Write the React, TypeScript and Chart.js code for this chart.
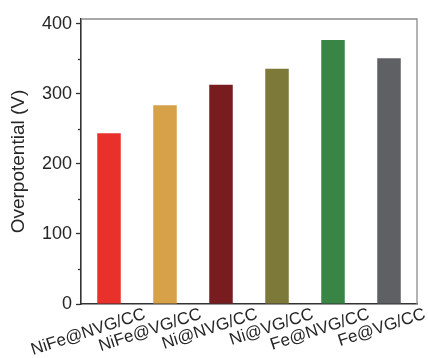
import React, { useEffect, useRef } from 'react';
import { Chart, registerables } from 'chart.js';

Chart.register(...registerables);

const categories = ['NiFe@NVG/CC', 'NiFe@VG/CC', 'Ni@NVG/CC', 'Ni@VG/CC', 'Fe@NVG/CC', 'Fe@VG/CC'];
const overpotential = [244, 284, 313, 336, 377, 351];
const barColors = ['#e8312a', '#d6a148', '#791c1f', '#7c7939', '#388545', '#5f6064'];
const yMin = 0;
const yMax = 407;
const majorStep = 100;
const minorStep = 50;
const yTitle = 'Overpotential (V)';

const FONT = '"Liberation Sans", Arial, Helvetica, sans-serif';
const TEXT = '#262626';
const AXIS = '#333333';

const framePlugin = {
  id: 'frame',
  beforeDatasetsDraw(chart: any) {
    const { ctx, chartArea: a } = chart;
    ctx.save();
    ctx.strokeStyle = '#8c8c8c';
    ctx.lineWidth = 1.3;
    ctx.beginPath();
    ctx.moveTo(a.left, a.top);
    ctx.lineTo(a.right, a.top);
    ctx.lineTo(a.right, a.bottom);
    ctx.stroke();
    ctx.restore();
  },
  afterDraw(chart: any) {
    const { ctx, chartArea: a } = chart;
    const ys = chart.scales.y;
    ctx.save();
    ctx.strokeStyle = AXIS;
    ctx.lineWidth = 1.3;
    for (let v = yMin + minorStep; v < yMax; v += majorStep) {
      const py = Math.round(ys.getPixelForValue(v)) + 0.5;
      ctx.beginPath();
      ctx.moveTo(a.left - 3, py);
      ctx.lineTo(a.left, py);
      ctx.stroke();
    }
    ctx.restore();
  },
};

export default function App() {
  const ref = useRef<HTMLCanvasElement>(null);
  useEffect(() => {
    if (!ref.current) return;
    const chart = new Chart(ref.current, {
      type: 'bar',
      data: {
        labels: categories,
        datasets: [
          {
            data: overpotential,
            backgroundColor: barColors,
            borderWidth: 0,
            barPercentage: 0.42,
            categoryPercentage: 1,
          },
        ],
      },
      options: {
        responsive: false,
        animation: false,
        layout: { padding: { top: 19, right: 11, left: 0, bottom: 0 } },
        plugins: { legend: { display: false }, tooltip: { enabled: false } },
        scales: {
          x: {
            grid: { display: true, drawOnChartArea: false, drawTicks: false },
            border: { color: AXIS, width: 1.6 },
            ticks: {
              minRotation: 18,
              maxRotation: 18,
              labelOffset: 36,
              padding: 0,
              autoSkip: false,
              color: TEXT,
              font: { family: FONT, size: 17 },
            },
            afterFit: (s: any) => {
              s.height = 54;
              s.paddingLeft = 0;
              s.paddingRight = 0;
            },
          },
          y: {
            min: yMin,
            max: yMax,
            grid: {
              drawOnChartArea: false,
              drawTicks: true,
              tickLength: 5,
              tickWidth: 1.3,
              tickColor: (c: any) =>
                c.tick && c.tick.value % majorStep === 0 ? AXIS : 'rgba(0,0,0,0)',
            },
            border: { color: AXIS, width: 1.6 },
            ticks: {
              stepSize: minorStep,
              includeBounds: false,
              padding: 4,
              color: TEXT,
              font: { family: FONT, size: 18 },
              callback: (v: any) => (Number(v) % majorStep === 0 ? String(v) : ''),
            },
            title: {
              display: true,
              text: yTitle,
              color: TEXT,
              font: { family: FONT, size: 19 },
              padding: { top: 7.6, bottom: 0 },
            },
            afterFit: (s: any) => {
              s.width = 81;
              s.paddingTop = 0;
              s.paddingBottom = 0;
            },
          },
        },
      },
      plugins: [framePlugin],
    });
    return () => chart.destroy();
  }, []);
  return (
    <div style={{ position: 'absolute', left: 0, top: 0, width: 428, height: 358, background: '#fff' }}>
      <canvas ref={ref} width={428} height={358} style={{ display: 'block' }} />
    </div>
  );
}
